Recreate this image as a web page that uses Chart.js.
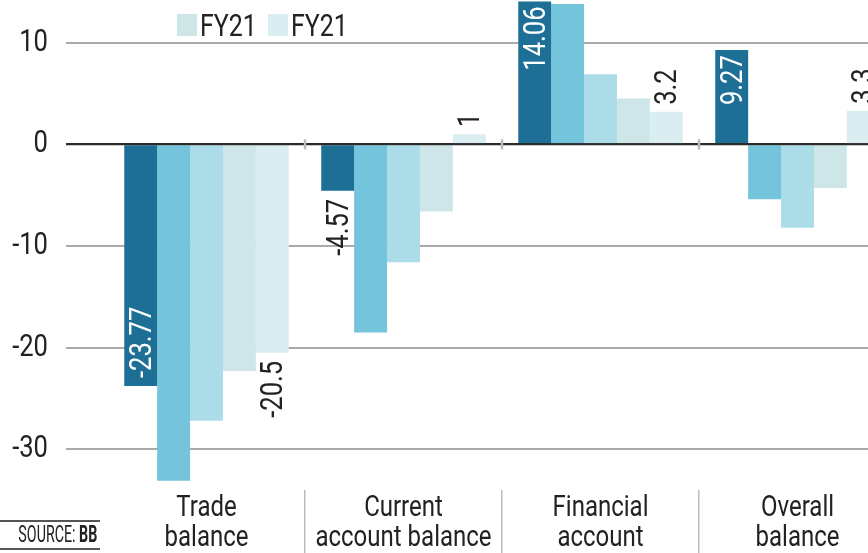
<!DOCTYPE html>
<html>
<head>
<meta charset="utf-8">
<script src="https://cdn.jsdelivr.net/npm/chart.js@4.4.0/dist/chart.umd.min.js"></script>
<style>
  html, body { margin: 0; padding: 0; background: #fff; overflow: hidden; }
  #wrap { position: relative; width: 868px; height: 553px; overflow: hidden; font-family: Roboto, sans-serif; color: #222; }
  #chart { position: absolute; left: 0; top: 0; }
  .sw { position: absolute; top: 14px; width: 20px; height: 22px; }
  .lg { position: absolute; top: 9px; font-size: 32px; line-height: 32px; white-space: nowrap;
    transform: scaleX(0.78); transform-origin: left top; }
  .source { position: absolute; left: 0; top: 520px; width: 100px; height: 26px;
    border-top: 2px solid #555; border-bottom: 2px solid #555; }
  .source span { position: absolute; right: 3px; top: 0; font-size: 23px; line-height: 26px; white-space: nowrap;
    transform: scaleX(0.62); transform-origin: right top; }
</style>
</head>
<body>
<div id="wrap">
  <canvas id="chart" width="900" height="553"></canvas>
  <div id="legend"></div>
  <div class="source"><span>SOURCE: <b>BB</b></span></div>
</div>
<script>
const FONT = "Roboto, sans-serif";
const SX = 0.8;   // horizontal squeeze to get a condensed look

// Categories and series (billions USD)
const categories = [['Trade', 'balance'], ['Current', 'account balance'], ['Financial', 'account'], ['Overall', 'balance']];
const series1 = [-23.77, -4.57, 14.06, 9.27];
const series2 = [-33.1, -18.5, 13.8, -5.4];
const series3 = [-27.2, -11.6, 6.9, -8.2];
const series4 = [-22.3, -6.6, 4.5, -4.3];
const series5 = [-20.5, 1, 3.2, 3.3];
const seriesNames = ['', '', '', 'FY21', 'FY21'];
const colors = ['#1e6f96', '#74c4db', '#acdce8', '#cfe6e9', '#daedf0'];
const yTicks = [-30, -20, -10, 0, 10];

// HTML legend (only the last two entries are visible)
const legendEl = document.getElementById('legend');
[[3, 177], [4, 268]].forEach(([i, x]) => {
  legendEl.innerHTML += `<div class="sw" style="left:${x}px;background:${colors[i]}"></div>` +
    `<div class="lg" style="left:${x + 23}px">${seriesNames[i]}</div>`;
});

// condensed text on the canvas: squeeze every fillText around its anchor
const canvas = document.getElementById('chart');
const c2d = canvas.getContext('2d');
const rawFill = c2d.fillText.bind(c2d);
c2d.fillText = function (text, x, y) {
  this.save();
  this.translate(x, y);
  this.scale(SX, 1);
  rawFill(text, 0, 0);
  this.restore();
};

// zero line, boundary ticks and rotated value labels
const valueLabels = {
  id: 'valueLabels',
  afterDatasetsDraw(chart) {
    const ctx = chart.ctx;
    const xs = chart.scales.x;
    const y0 = chart.scales.y.getPixelForValue(0);

    ctx.save();
    ctx.strokeStyle = '#2b2b2b';
    ctx.lineWidth = 2;
    ctx.beginPath();
    ctx.moveTo(chart.chartArea.left - 42, y0);
    ctx.lineTo(chart.chartArea.right, y0);
    ctx.stroke();

    ctx.strokeStyle = '#bbbbbb';
    ctx.lineWidth = 2.5;
    for (let i = 0; i < categories.length - 1; i++) {
      const bx = (xs.getPixelForTick(i) + xs.getPixelForTick(i + 1)) / 2;
      ctx.beginPath();
      ctx.moveTo(bx, y0 - 5);
      ctx.lineTo(bx, y0 + 5);
      ctx.stroke();
    }

    ctx.font = `32px ${FONT}`;
    ctx.textBaseline = 'middle';
    [0, 4].forEach(di => {
      const meta = chart.getDatasetMeta(di);
      meta.data.forEach((bar, i) => {
        const v = chart.data.datasets[di].data[i];
        const txt = String(v);
        const w = ctx.measureText(txt).width * SX;
        const len = Math.abs(bar.base - bar.y);
        const inside = di === 0 && len > w + 16;
        let y, align, color;
        if (v >= 0) {
          if (inside) { y = bar.y + 5; align = 'right'; color = '#fff'; }
          else { y = bar.y - 7; align = 'left'; color = '#222'; }
        } else {
          if (inside) { y = bar.y - 8; align = 'left'; color = '#fff'; }
          else { y = bar.y + 8; align = 'right'; color = '#222'; }
        }
        ctx.save();
        ctx.translate(bar.x + 1, y);
        ctx.rotate(-Math.PI / 2);
        ctx.textAlign = align;
        ctx.fillStyle = color;
        ctx.fillText(txt, 0, 1);
        ctx.restore();
      });
    });
    ctx.restore();
  }
};

const allSeries = [series1, series2, series3, series4, series5];

new Chart(canvas, {
  type: 'bar',
  data: {
    labels: categories,
    datasets: allSeries.map((d, i) => ({
      label: seriesNames[i],
      data: d,
      backgroundColor: colors[i],
      borderWidth: 0,
      categoryPercentage: 0.835,
      barPercentage: 1
    }))
  },
  options: {
    responsive: false,
    animation: false,
    layout: { padding: { top: 0, right: 4, left: 0, bottom: 0 } },
    plugins: {
      legend: { display: false },
      tooltip: { enabled: false }
    },
    scales: {
      x: {
        afterFit: s => { s.height = 63; s.paddingLeft = 0; s.paddingRight = 0; },
        grid: {
          offset: true,
          drawOnChartArea: false,
          drawTicks: true,
          tickLength: 63,
          lineWidth: 1.5,
          color: c => c.index === 0 ? 'rgba(0,0,0,0)' : '#bbbbbb'
        },
        border: { display: false },
        ticks: {
          padding: -60,
          color: '#222',
          maxRotation: 0,
          autoSkip: false,
          font: { family: FONT, size: 30, lineHeight: 1.0 }
        }
      },
      y: {
        min: -34,
        max: 14.2,
        afterFit: s => { s.width = 108; s.paddingTop = 0; s.paddingBottom = 0; },
        afterBuildTicks: s => { s.ticks = yTicks.map(v => ({ value: v })); },
        grid: {
          lineWidth: 2,
          tickLength: 42,
          color: c => (c.tick && c.tick.value === 0) ? '#2b2b2b' : '#aaaaaa'
        },
        border: { display: false },
        ticks: {
          padding: 18,
          color: '#222',
          font: { family: FONT, size: 32 }
        }
      }
    }
  },
  plugins: [valueLabels]
});
</script>
</body>
</html>
